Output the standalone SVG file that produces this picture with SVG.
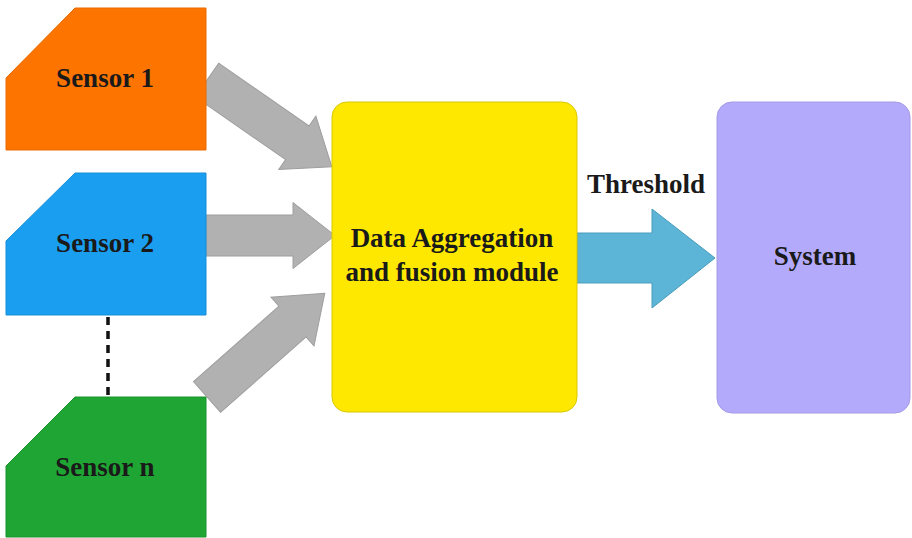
<svg xmlns="http://www.w3.org/2000/svg" width="912" height="538" viewBox="0 0 912 538">
  <defs>
    <style>
      .lbl { font-family: "Liberation Serif", "Times New Roman", serif; font-weight: bold; font-size: 27px; fill: #1a1a1a; text-anchor: middle; }
      .gray { fill: #b1b1b1; stroke: #9e9e9e; stroke-width: 1; }
    </style>
  </defs>
  <rect width="912" height="538" fill="#ffffff"/>

  <!-- connectors: block arrows drawn along +x from the tail, then placed -->
  <g id="connectors">
    <polygon class="gray" transform="translate(207,80) rotate(34.8)" points="0,-20.5 110,-20.5 110,-32.5 152,0 110,32.5 110,20.5 0,20.5"/>
    <polygon class="gray" transform="translate(206,235.5)" points="0,-20.5 87,-20.5 87,-33 129,0 87,33 87,20.5 0,20.5"/>
    <polygon class="gray" transform="translate(207,397) rotate(-41.4)" points="0,-20.5 114,-20.5 114,-32.5 157,0 114,32.5 114,20.5 0,20.5"/>
    <polygon fill="#5cb5d6" stroke="#4a9cbc" stroke-width="1" points="577,233 652,233 652,209 715,258 652,308 652,283 577,283"/>
    <line x1="108" y1="317" x2="108" y2="396" stroke="#111111" stroke-width="3.5" stroke-dasharray="8,6"/>
    <text class="lbl" x="646" y="193">Threshold</text>
  </g>

  <g id="sensor1">
    <polygon fill="#fd7400" stroke="#e86a00" stroke-width="1" points="75,8 206,8 206,150 6,150 6,78"/>
    <text class="lbl" x="105" y="87">Sensor 1</text>
  </g>

  <g id="sensor2">
    <polygon fill="#1a9ef0" stroke="#178fd8" stroke-width="1" points="75,173 206,173 206,315 6,315 6,241"/>
    <text class="lbl" x="105" y="252">Sensor 2</text>
  </g>

  <g id="sensorN">
    <polygon fill="#1fa533" stroke="#1b942d" stroke-width="1" points="75,397 206,397 206,537 6,537 6,466"/>
    <text class="lbl" x="105" y="476">Sensor n</text>
  </g>

  <g id="fusion">
    <rect x="332" y="102" width="245" height="310" rx="15" fill="#ffe800" stroke="#d8c800" stroke-width="1"/>
    <text class="lbl" x="452" y="247">Data Aggregation</text>
    <text class="lbl" x="452" y="281">and fusion module</text>
  </g>

  <g id="system">
    <rect x="717" y="102" width="193" height="311" rx="15" fill="#b3aafb" stroke="#a39ae6" stroke-width="1"/>
    <text class="lbl" x="815" y="265">System</text>
  </g>
</svg>
